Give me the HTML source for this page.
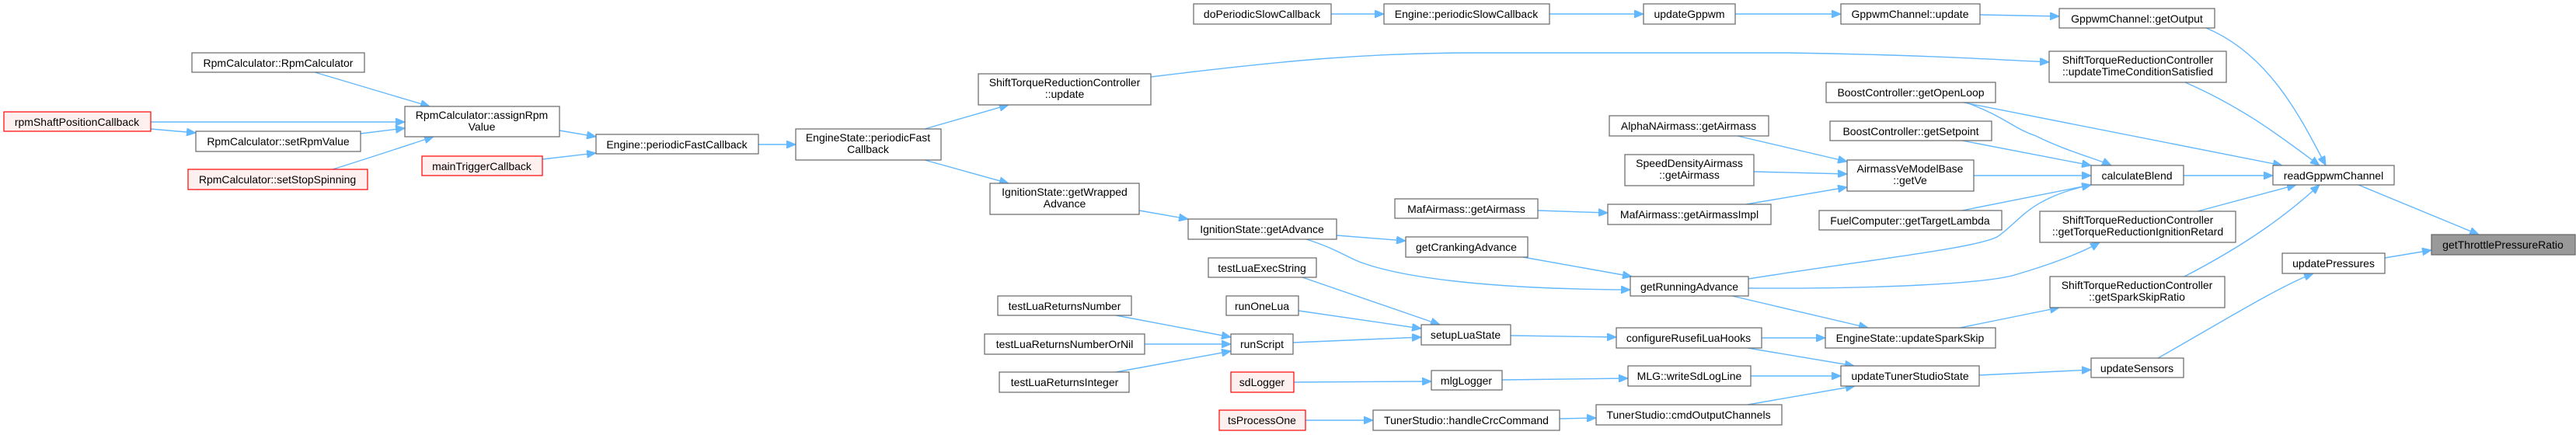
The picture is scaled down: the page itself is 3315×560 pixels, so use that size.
<!DOCTYPE html>
<html><head><meta charset="utf-8"><style>
html,body{margin:0;padding:0;background:#fff;}
svg{display:block;}
text{font-family:"Liberation Sans",sans-serif;font-size:14px;fill:#000;text-anchor:middle;}
.n{fill:#fff;stroke:#666;stroke-width:1.2;}
.r{fill:#fff0f0;stroke:#ff0000;stroke-width:1.2;}
.g{fill:#999;stroke:#666;stroke-width:1.2;}
path{fill:none;stroke:#63b8ff;stroke-width:1.4;marker-end:url(#a);}
</style></head><body>
<svg width="3315" height="560" viewBox="0 0 3315 560" xmlns="http://www.w3.org/2000/svg">
<defs><marker id="a" markerUnits="userSpaceOnUse" markerWidth="13" markerHeight="10" refX="12" refY="5" orient="auto"><path d="M0,0 L12,5 L0,10 Z" style="fill:#63b8ff;stroke:#63b8ff;stroke-width:1;marker-end:none"/></marker></defs>

<!-- edges -->
<path d="M405,93 L553,137"/>
<path d="M194,157 L521,157"/>
<path d="M194,166 L252,171"/>
<path d="M464,172 L521,165"/>
<path d="M428,218 C470,205 500,195 558,176"/>
<path d="M720,168 L767,176"/>
<path d="M698,205 L767,197"/>
<path d="M976,186 L1024,186"/>
<path d="M1190,166 L1298,135"/>
<path d="M1190,206 L1298,236"/>
<path d="M1466,271 L1529,282"/>
<path d="M1481,99 C1650,78 1760,68 1900,68 L2300,68 C2450,70 2560,76 2637,80"/>
<path d="M1713,18 L1781,18"/>
<path d="M1994,18 L2115,18"/>
<path d="M2233,18 L2369,18"/>
<path d="M2548,19 L2650,21"/>
<path d="M2839,36 C2920,70 2960,150 2993,213"/>
<path d="M2812,106 C2890,140 2940,180 2985,213"/>
<path d="M2527,132 L2937,213"/>
<path d="M2530,132 C2580,150 2590,165 2620,175 C2660,195 2700,205 2717,213"/>
<path d="M2525,181 L2691,213"/>
<path d="M2540,226 L2691,226"/>
<path d="M2525,271 L2691,238"/>
<path d="M2250,359 C2400,335 2540,320 2570,305 C2600,285 2610,255 2691,238"/>
<path d="M2250,371 C2420,372 2560,365 2596,353 C2640,340 2680,325 2702,312"/>
<path d="M2229,381 L2404,422"/>
<path d="M1681,308 C1720,320 1740,335 1755,339 C1800,355 1900,372 2098,373"/>
<path d="M1720,303 L1809,310"/>
<path d="M1960,331 L2100,356"/>
<path d="M2236,175 L2377,208"/>
<path d="M2257,221 L2377,224"/>
<path d="M2247,263 L2377,241"/>
<path d="M1979,271 L2069,274"/>
<path d="M1676,357 L1853,418"/>
<path d="M1671,400 L1829,423"/>
<path d="M1664,441 L1829,434"/>
<path d="M1944,432 L2080,434"/>
<path d="M2267,435 L2349,435"/>
<path d="M2249,448 L2386,471"/>
<path d="M2522,422 L2650,396"/>
<path d="M2811,356 C2900,310 2950,270 2985,238"/>
<path d="M2828,272 L2955,238"/>
<path d="M2810,226 L2925,226"/>
<path d="M3035,238 L3190,302"/>
<path d="M3069,332 L3129,322"/>
<path d="M2777,461 C2850,420 2930,370 2977,352"/>
<path d="M2547,483 L2691,476"/>
<path d="M2253,484 L2369,484"/>
<path d="M1933,489 L2095,487"/>
<path d="M1665,492 L1842,491"/>
<path d="M2249,521 L2387,497"/>
<path d="M2007,539 L2054,538"/>
<path d="M1680,541 L1767,541"/>
<path d="M1436,406 L1584,434"/>
<path d="M1473,443 L1584,443"/>
<path d="M1436,479 L1584,452"/>

<!-- nodes -->
<rect class="n" x="247" y="68" width="222" height="25"/><text x="358" y="86">RpmCalculator::RpmCalculator</text>
<rect class="r" x="5" y="144" width="189" height="25"/><text x="99" y="162">rpmShaftPositionCallback</text>
<rect class="n" x="521" y="137" width="199" height="39"/><text x="620" y="153">RpmCalculator::assignRpm</text><text x="620" y="168">Value</text>
<rect class="n" x="252" y="169" width="212" height="26"/><text x="358" y="187">RpmCalculator::setRpmValue</text>
<rect class="r" x="242" y="218" width="231" height="26"/><text x="357" y="236">RpmCalculator::setStopSpinning</text>
<rect class="r" x="543" y="201" width="155" height="25"/><text x="620" y="219">mainTriggerCallback</text>
<rect class="n" x="767" y="173" width="209" height="25"/><text x="871" y="191">Engine::periodicFastCallback</text>
<rect class="n" x="1024" y="166" width="187" height="40"/><text x="1117" y="182">EngineState::periodicFast</text><text x="1117" y="197">Callback</text>
<rect class="n" x="1259" y="95" width="222" height="40"/><text x="1370" y="111">ShiftTorqueReductionController</text><text x="1370" y="126">::update</text>
<rect class="n" x="1274" y="236" width="192" height="40"/><text x="1370" y="252">IgnitionState::getWrapped</text><text x="1370" y="267">Advance</text>
<rect class="n" x="1536" y="5" width="177" height="26"/><text x="1624" y="23">doPeriodicSlowCallback</text>
<rect class="n" x="1529" y="282" width="191" height="26"/><text x="1624" y="300">IgnitionState::getAdvance</text>
<rect class="n" x="1555" y="332" width="139" height="25"/><text x="1624" y="350">testLuaExecString</text>
<rect class="n" x="1284" y="381" width="172" height="25"/><text x="1370" y="399">testLuaReturnsNumber</text>
<rect class="n" x="1578" y="381" width="93" height="25"/><text x="1624" y="399">runOneLua</text>
<rect class="n" x="1267" y="430" width="206" height="26"/><text x="1370" y="448">testLuaReturnsNumberOrNil</text>
<rect class="n" x="1584" y="430" width="80" height="26"/><text x="1624" y="448">runScript</text>
<rect class="n" x="1286" y="479" width="167" height="26"/><text x="1370" y="497">testLuaReturnsInteger</text>
<rect class="r" x="1584" y="479" width="81" height="26"/><text x="1624" y="497">sdLogger</text>
<rect class="r" x="1569" y="528" width="111" height="26"/><text x="1624" y="546">tsProcessOne</text>
<rect class="n" x="1781" y="5" width="213" height="26"/><text x="1887" y="23">Engine::periodicSlowCallback</text>
<rect class="n" x="2115" y="5" width="118" height="26"/><text x="2174" y="23">updateGppwm</text>
<rect class="n" x="2369" y="5" width="179" height="26"/><text x="2458" y="23">GppwmChannel::update</text>
<rect class="n" x="2350" y="106" width="218" height="26"/><text x="2459" y="124">BoostController::getOpenLoop</text>
<rect class="n" x="2071" y="149" width="205" height="26"/><text x="2173" y="167">AlphaNAirmass::getAirmass</text>
<rect class="n" x="2355" y="156" width="208" height="25"/><text x="2459" y="174">BoostController::getSetpoint</text>
<rect class="n" x="2091" y="199" width="166" height="40"/><text x="2174" y="215">SpeedDensityAirmass</text><text x="2174" y="230">::getAirmass</text>
<rect class="n" x="2377" y="206" width="163" height="40"/><text x="2458" y="222">AirmassVeModelBase</text><text x="2458" y="237">::getVe</text>
<rect class="n" x="1795" y="256" width="184" height="25"/><text x="1887" y="274">MafAirmass::getAirmass</text>
<rect class="n" x="2069" y="263" width="210" height="26"/><text x="2174" y="281">MafAirmass::getAirmassImpl</text>
<rect class="n" x="2341" y="271" width="235" height="25"/><text x="2458" y="289">FuelComputer::getTargetLambda</text>
<rect class="n" x="1809" y="305" width="157" height="26"/><text x="1887" y="323">getCrankingAdvance</text>
<rect class="n" x="2098" y="356" width="152" height="25"/><text x="2174" y="374">getRunningAdvance</text>
<rect class="n" x="1829" y="418" width="115" height="26"/><text x="1886" y="436">setupLuaState</text>
<rect class="n" x="2080" y="422" width="187" height="26"/><text x="2173" y="440">configureRusefiLuaHooks</text>
<rect class="n" x="2349" y="422" width="219" height="26"/><text x="2458" y="440">EngineState::updateSparkSkip</text>
<rect class="n" x="1842" y="477" width="91" height="25"/><text x="1887" y="495">mlgLogger</text>
<rect class="n" x="2095" y="471" width="158" height="26"/><text x="2174" y="489">MLG::writeSdLogLine</text>
<rect class="n" x="2369" y="471" width="178" height="26"/><text x="2458" y="489">updateTunerStudioState</text>
<rect class="n" x="1767" y="528" width="240" height="26"/><text x="1887" y="546">TunerStudio::handleCrcCommand</text>
<rect class="n" x="2054" y="521" width="239" height="26"/><text x="2173" y="539">TunerStudio::cmdOutputChannels</text>
<rect class="n" x="2650" y="11" width="200" height="25"/><text x="2750" y="29">GppwmChannel::getOutput</text>
<rect class="n" x="2637" y="66" width="228" height="40"/><text x="2751" y="82">ShiftTorqueReductionController</text><text x="2751" y="97">::updateTimeConditionSatisfied</text>
<rect class="n" x="2691" y="213" width="119" height="25"/><text x="2750" y="231">calculateBlend</text>
<rect class="n" x="2925" y="213" width="156" height="25"/><text x="3003" y="231">readGppwmChannel</text>
<rect class="n" x="2625" y="272" width="252" height="40"/><text x="2751" y="288">ShiftTorqueReductionController</text><text x="2751" y="303">::getTorqueReductionIgnitionRetard</text>
<rect class="g" x="3129" y="302" width="185" height="26"/><text x="3221" y="320">getThrottlePressureRatio</text>
<rect class="n" x="2937" y="326" width="132" height="26"/><text x="3003" y="344">updatePressures</text>
<rect class="n" x="2638" y="356" width="225" height="40"/><text x="2750" y="372">ShiftTorqueReductionController</text><text x="2750" y="387">::getSparkSkipRatio</text>
<rect class="n" x="2691" y="461" width="119" height="25"/><text x="2750" y="479">updateSensors</text>
</svg>
</body></html>
